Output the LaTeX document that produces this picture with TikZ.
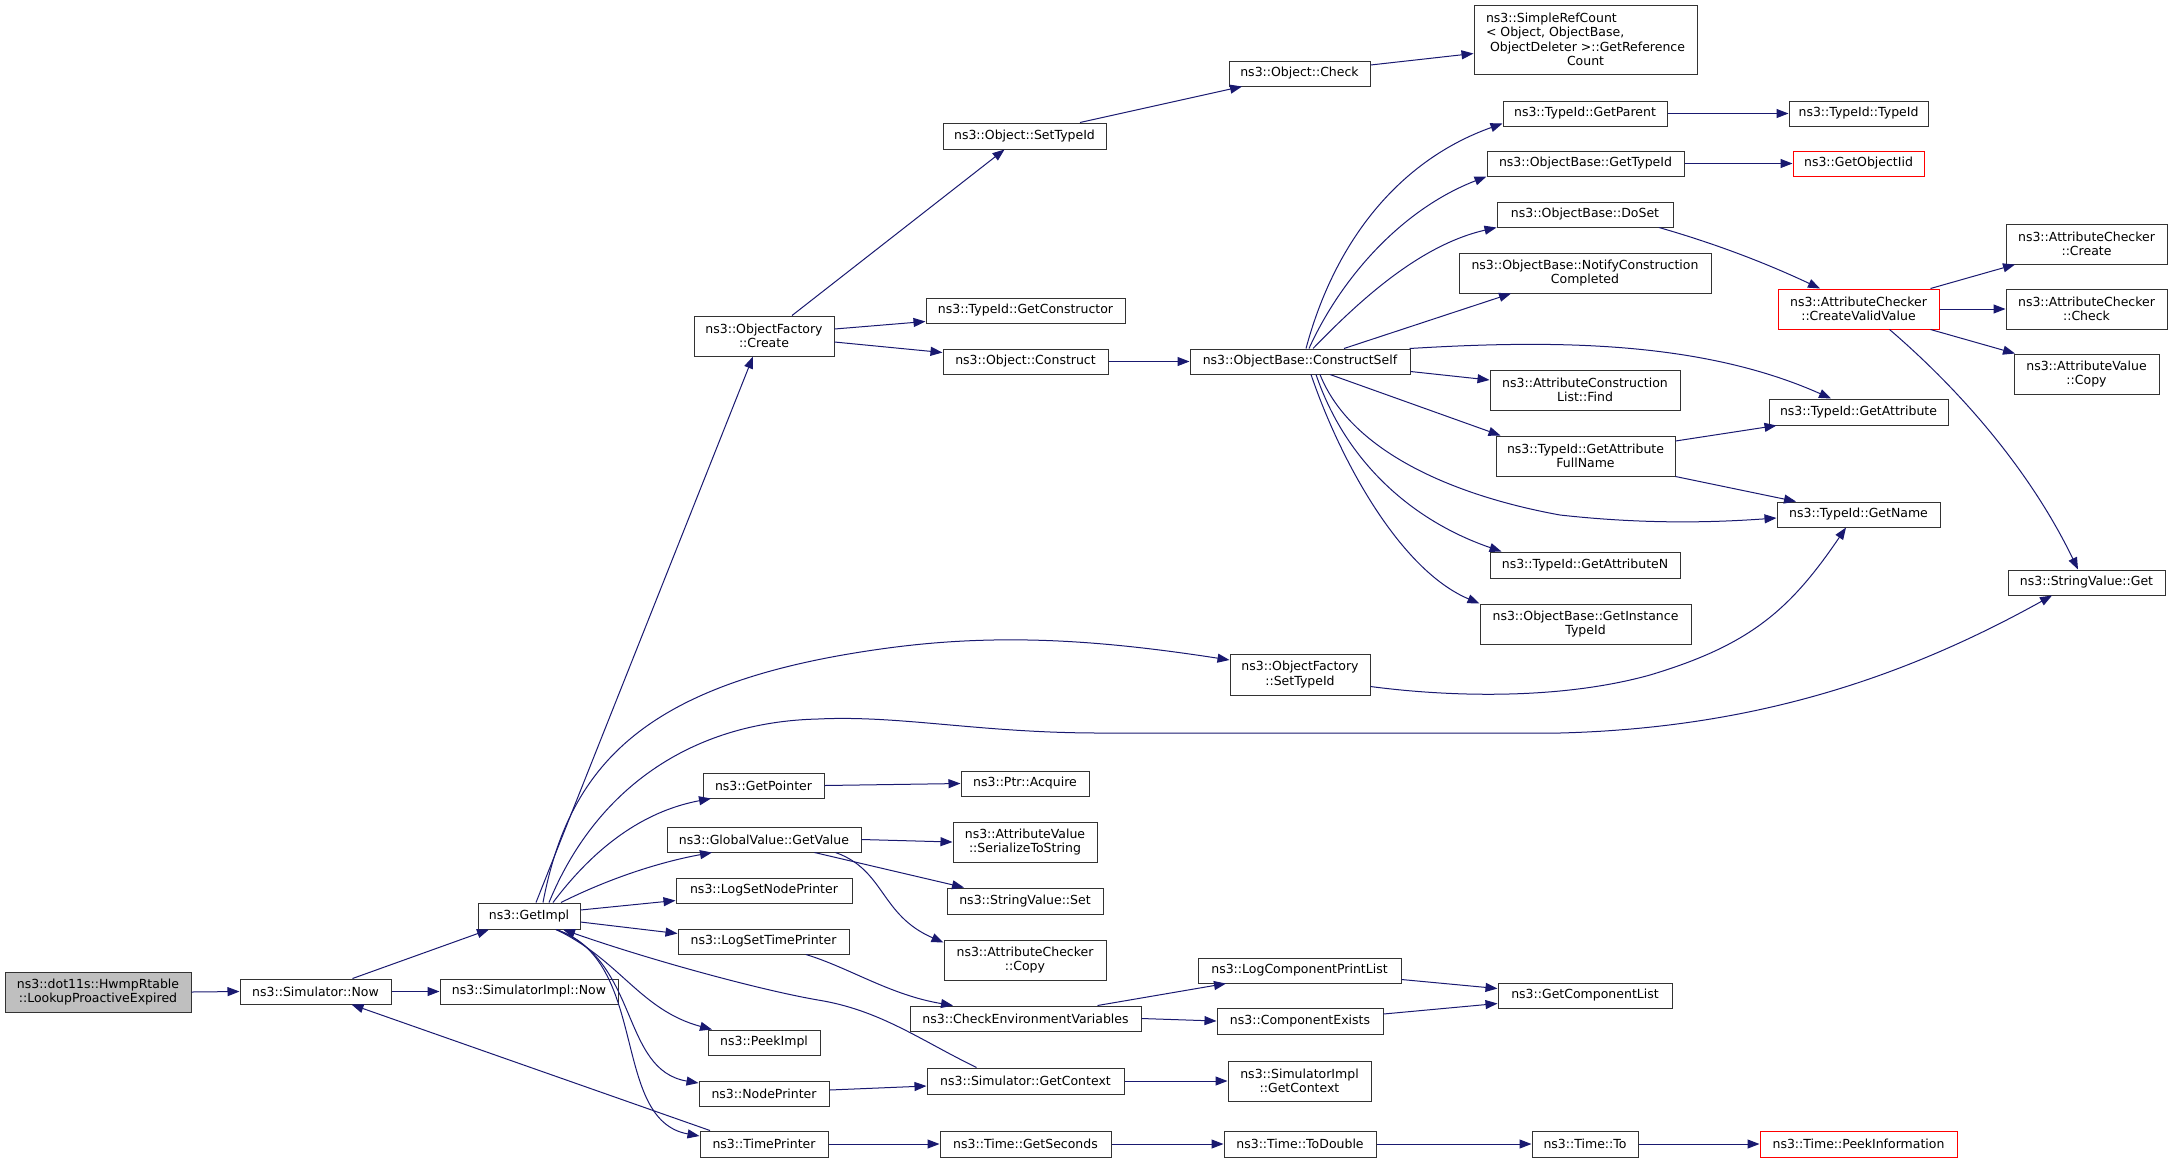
\documentclass[tikz,border=0pt]{standalone}
\usepackage{fontspec}
\setmainfont{DejaVu Sans}
\usetikzlibrary{arrows.meta}
\definecolor{edgecol}{HTML}{191970}
\definecolor{boxgray}{HTML}{BFBFBF}
\tikzset{
  fnbox/.style={draw=black!80,line width=1pt,fill=white,inner sep=0pt,align=center,font=\fontsize{12.5}{14.4}\selectfont},
  redbox/.style={draw=red},
  graybox/.style={fill=boxgray},
  link/.style={draw=edgecol,line width=1pt,-{Triangle[length=12pt,width=9pt]}}
}
\newcommand\bx[7][]{\node[fnbox,#1,minimum width={(#5-#3)*1pt},minimum height={(#6-#4)*1pt}] (#2) at ({(#3+#5)/2},{(#4+#6)/2}) {#7};}
\begin{document}
\begin{tikzpicture}[x=1pt,y=-1pt]
\useasboundingbox (0,0) rectangle (2173,1163);
% nodes
\bx[graybox]{hw}{5}{972}{191}{1012}{ns3::dot11s::HwmpRtable\\::LookupProactiveExpired}
\bx{now}{240}{979}{391}{1004}{ns3::Simulator::Now}
\bx{gimpl}{478}{903}{580}{929}{ns3::GetImpl}
\bx{simnow}{440}{979}{618}{1004}{ns3::SimulatorImpl::Now}
\bx{ofc}{694}{316}{834}{356}{ns3::ObjectFactory\\::Create}
\bx{osti}{943}{123}{1106}{149}{ns3::Object::SetTypeId}
\bx{gcons}{926}{298}{1125}{323}{ns3::TypeId::GetConstructor}
\bx{ocons}{943}{349}{1108}{374}{ns3::Object::Construct}
\bx{ochk}{1229}{61}{1370}{86}{ns3::Object::Check}
\bx[align=left]{src}{1474}{5}{1697}{74}{ns3::SimpleRefCount\\< Object, ObjectBase,\\\hspace*{4pt}ObjectDeleter >::GetReference\\\hspace*{81pt}Count}
\bx{gpar}{1503}{101}{1667}{126}{ns3::TypeId::GetParent}
\bx{obgti}{1487}{151}{1684}{176}{ns3::ObjectBase::GetTypeId}
\bx{doset}{1497}{202}{1673}{227}{ns3::ObjectBase::DoSet}
\bx{ncc}{1459}{253}{1711}{293}{ns3::ObjectBase::NotifyConstruction\\Completed}
\bx{cself}{1190}{349}{1410}{374}{ns3::ObjectBase::ConstructSelf}
\bx{acl}{1490}{370}{1680}{410}{ns3::AttributeConstruction\\List::Find}
\bx{tid}{1789}{101}{1928}{126}{ns3::TypeId::TypeId}
\bx[redbox]{goi}{1793}{151}{1924}{176}{ns3::GetObjectIid}
\bx[redbox]{cvv}{1778}{289}{1939}{329}{ns3::AttributeChecker\\::CreateValidValue}
\bx{acc}{2006}{224}{2167}{264}{ns3::AttributeChecker\\::Create}
\bx{achk}{2006}{289}{2167}{329}{ns3::AttributeChecker\\::Check}
\bx{avc}{2014}{354}{2159}{394}{ns3::AttributeValue\\::Copy}
\bx{gattr}{1769}{399}{1948}{425}{ns3::TypeId::GetAttribute}
\bx{gname}{1777}{502}{1940}{527}{ns3::TypeId::GetName}
\bx{svg}{2008}{570}{2165}{595}{ns3::StringValue::Get}
\bx{gafn}{1496}{436}{1675}{476}{ns3::TypeId::GetAttribute\\FullName}
\bx{gan}{1490}{552}{1680}{578}{ns3::TypeId::GetAttributeN}
\bx{gitid}{1480}{604}{1691}{644}{ns3::ObjectBase::GetInstance\\TypeId}
\bx{ofsti}{1230}{654}{1370}{695}{ns3::ObjectFactory\\::SetTypeId}
\bx{gptr}{703}{773}{824}{798}{ns3::GetPointer}
\bx{acq}{961}{771}{1089}{796}{ns3::Ptr::Acquire}
\bx{ggv}{667}{827}{861}{852}{ns3::GlobalValue::GetValue}
\bx{sts}{953}{822}{1097}{862}{ns3::AttributeValue\\::SerializeToString}
\bx{lsnp}{676}{878}{852}{903}{ns3::LogSetNodePrinter}
\bx{svs}{947}{888}{1103}{914}{ns3::StringValue::Set}
\bx{lstp}{678}{929}{849}{954}{ns3::LogSetTimePrinter}
\bx{acopy}{944}{940}{1106}{980}{ns3::AttributeChecker\\::Copy}
\bx{cev}{910}{1006}{1141}{1031}{ns3::CheckEnvironmentVariables}
\bx{peek}{708}{1030}{820}{1055}{ns3::PeekImpl}
\bx{sgc}{927}{1068}{1124}{1094}{ns3::Simulator::GetContext}
\bx{np}{699}{1081}{829}{1106}{ns3::NodePrinter}
\bx{tp}{700}{1131}{828}{1157}{ns3::TimePrinter}
\bx{gsec}{940}{1131}{1111}{1157}{ns3::Time::GetSeconds}
\bx{lcpl}{1198}{958}{1401}{983}{ns3::LogComponentPrintList}
\bx{cex}{1217}{1008}{1383}{1034}{ns3::ComponentExists}
\bx{gcl}{1498}{983}{1672}{1008}{ns3::GetComponentList}
\bx{sigc}{1228}{1061}{1371}{1101}{ns3::SimulatorImpl\\::GetContext}
\bx{tod}{1224}{1131}{1376}{1157}{ns3::Time::ToDouble}
\bx{tto}{1532}{1131}{1638}{1157}{ns3::Time::To}
\bx[redbox]{tpi}{1760}{1131}{1957}{1157}{ns3::Time::PeekInformation}
% edges
\draw[link] (hw.east) -- (now.west);
\draw[link] ([shift={(37,0)}]now.north) -- ([shift={(-40,0)}]gimpl.south);
\draw[link] (now.east) -- (simnow.west);
\draw[link] ([shift={(-54,0)}]tp.north) -- ([shift={(36,0)}]now.south);
\draw[link] ([shift={(7,0)}]gimpl.north) -- ([shift={(-11,0)}]ofc.south);
\draw[link] ([shift={(14,0)}]gimpl.north) .. controls (570,760) and (650,680) .. (888,648) .. controls (1000,633) and (1100,640) .. ([shift={(0,-14.5)}]ofsti.west);
\draw[link] ([shift={(20,0)}]gimpl.north) .. controls (595,790) and (690,722) .. (818,719) .. controls (900,715) and (980,733) .. (1100,733) -- (1560,733) .. controls (1750,728) and (1900,680) .. ([shift={(-34.5,0)}]svg.south);
\draw[link] ([shift={(24,0)}]gimpl.north) .. controls (600,840) and (650,810) .. ([shift={(-52.5,0)}]gptr.south);
\draw[link] ([shift={(32,0)}]gimpl.north) .. controls (610,878) and (660,862) .. ([shift={(-52,0)}]ggv.south);
\draw[link] ([shift={(0,-6)}]gimpl.east) -- ([shift={(0,10)}]lsnp.west);
\draw[link] ([shift={(0,6)}]gimpl.east) -- ([shift={(0,-8)}]lstp.west);
\draw[link] ([shift={(27,0)}]gimpl.south) .. controls (620,960) and (640,1010) .. ([shift={(-52,0)}]peek.north);
\draw[link] ([shift={(27,0)}]gimpl.south) .. controls (640,960) and (620,1070) .. ([shift={(0,-10.5)}]np.west);
\draw[link] ([shift={(27,0)}]gimpl.south) .. controls (650,960) and (610,1120) .. ([shift={(0,-8)}]tp.west);
\draw[link] ([shift={(-49,0)}]sgc.north) .. controls (920,1040) and (880,1010) .. (818,1000) .. controls (760,990) and (650,960) .. ([shift={(34,0)}]gimpl.south);
\draw[link] ([shift={(28,0)}]ofc.north) -- ([shift={(-20,0)}]osti.south);
\draw[link] ([shift={(0,-7)}]ofc.east) -- ([shift={(0,11)}]gcons.west);
\draw[link] ([shift={(0,6)}]ofc.east) -- ([shift={(0,-9)}]ocons.west);
\draw[link] ([shift={(55.5,0)}]osti.north) -- ([shift={(-57.5,0)}]ochk.south);
\draw[link] ([shift={(0,-8.5)}]ochk.east) -- ([shift={(0,14)}]src.west);
\draw[link] (ocons.east) -- (cself.west);
\draw[link] ([shift={(6,0)}]cself.north) .. controls (1335,240) and (1400,160) .. ([shift={(0,10)}]gpar.west);
\draw[link] ([shift={(9,0)}]cself.north) .. controls (1340,280) and (1400,210) .. (obgti.south west);
\draw[link] ([shift={(13,0)}]cself.north) .. controls (1360,300) and (1420,245) .. (doset.south west);
\draw[link] ([shift={(44,0)}]cself.north) -- ([shift={(-74,0)}]ncc.south);
\draw[link] ([shift={(-1,0)}]cself.north east) .. controls (1550,340) and (1700,340) .. ([shift={(-27.5,0)}]gattr.north);
\draw[link] ([shift={(0,10)}]cself.east) -- ([shift={(0,-10)}]acl.west);
\draw[link] ([shift={(30,0)}]cself.south) -- ([shift={(-85,0)}]gafn.north);
\draw[link] ([shift={(20,0)}]cself.south) .. controls (1350,450) and (1450,495) .. (1560,515) .. controls (1650,525) and (1720,522) .. ([shift={(0,3.5)}]gname.west);
\draw[link] ([shift={(16,0)}]cself.south) .. controls (1345,460) and (1410,520) .. ([shift={(12,0)}]gan.north west);
\draw[link] ([shift={(11,0)}]cself.south) .. controls (1340,460) and (1400,570) .. (gitid.north west);
\draw[link] (gpar.east) -- (tid.west);
\draw[link] (obgti.east) -- (goi.west);
\draw[link] ([shift={(74,0)}]doset.south) .. controls (1720,245) and (1770,265) .. ([shift={(-38.5,0)}]cvv.north);
\draw[link] ([shift={(72,0)}]cvv.north) -- ([shift={(-71.5,0)}]acc.south);
\draw[link] (cvv.east) -- (achk.west);
\draw[link] ([shift={(72,0)}]cvv.south) -- ([shift={(-71.5,0)}]avc.north);
\draw[link] ([shift={(31,0)}]cvv.south) .. controls (1960,390) and (2030,470) .. ([shift={(-8.5,0)}]svg.north);
\draw[link] ([shift={(0,-15)}]gafn.east) -- ([shift={(8,0)}]gattr.south west);
\draw[link] (gafn.south east) -- ([shift={(-62.5,0)}]gname.north);
\draw[link] ([shift={(0,12)}]ofsti.east) .. controls (1450,697) and (1560,700) .. (1650,675) .. controls (1750,645) and (1790,610) .. ([shift={(-12.5,0)}]gname.south);
\draw[link] (gptr.east) -- (acq.west);
\draw[link] (ggv.east) -- (sts.west);
\draw[link] ([shift={(50.5,0)}]ggv.south) -- ([shift={(-61,0)}]svs.north);
\draw[link] ([shift={(71.5,0)}]ggv.south) .. controls (885,870) and (880,915) .. ([shift={(0,3)}]acopy.north west);
\draw[link] ([shift={(42.5,0)}]lstp.south) .. controls (850,968) and (890,995) .. ([shift={(-72.5,0)}]cev.north);
\draw[link] ([shift={(72,0)}]cev.north) -- ([shift={(-73.5,0)}]lcpl.south);
\draw[link] (cev.east) -- (cex.west);
\draw[link] ([shift={(0,9)}]lcpl.east) -- ([shift={(0,-7)}]gcl.west);
\draw[link] ([shift={(0,-7)}]cex.east) -- ([shift={(0,8)}]gcl.west);
\draw[link] (sgc.east) -- (sigc.west);
\draw[link] ([shift={(0,-3.5)}]np.east) -- ([shift={(0,5)}]sgc.west);
\draw[link] (tp.east) -- (gsec.west);
\draw[link] (gsec.east) -- (tod.west);
\draw[link] (tod.east) -- (tto.west);
\draw[link] (tto.east) -- (tpi.west);
\end{tikzpicture}
\end{document}
